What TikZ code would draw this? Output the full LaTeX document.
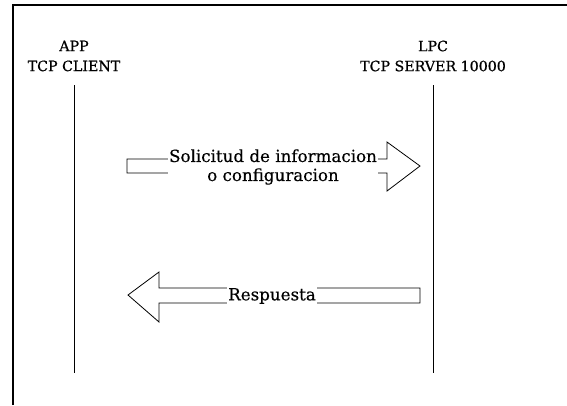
\documentclass[tikz,border=0pt]{standalone}
\usepackage{fontspec}
\setmainfont{DejaVu Serif}
\newfontfamily\dfont[FakeBold=0.35]{DejaVu Serif}
\newfontfamily\hfont[FakeBold=0.7]{DejaVu Serif}
\begin{document}
\begin{tikzpicture}[x=1pt,y=-1pt,
  lbl/.style={align=center,font=\hfont\fontsize{14.2}{20}\selectfont,inner sep=0pt},
  msg/.style={align=center,font=\dfont\fontsize{16.7}{19}\selectfont,fill=white,inner sep=1pt},
  life/.style={line width=0.9pt},
  blockarrow/.style={line width=0.8pt,line join=miter}]
\useasboundingbox (0,0) rectangle (567,405);
\draw[line width=1.4pt] (13,405) -- (13,5) -- (567,5);
\node[lbl] (app) at (74,56) {APP\\TCP CLIENT};
\node[lbl] (lpc) at (433,56) {LPC\\TCP SERVER 10000};
\coordinate (a1) at (74,85);
\coordinate (a2) at (74,373);
\coordinate (l1) at (433,85);
\coordinate (l2) at (433,373);
\draw[life] (a1) -- (a2);
\draw[life] (l1) -- (l2);
\draw[blockarrow] (127,159) -- (387,159) -- (387,142) -- (420,166) -- (387,191) -- (387,173) -- (127,173) -- cycle;
\node[msg] (req) at (273,167) {Solicitud de informacion\\o configuracion};
\draw[blockarrow] (420,288) -- (159,288) -- (159,272) -- (128,295) -- (159,322) -- (159,303) -- (420,303) -- cycle;
\node[msg] (resp) at (272,296) {Respuesta};
\end{tikzpicture}
\end{document}
